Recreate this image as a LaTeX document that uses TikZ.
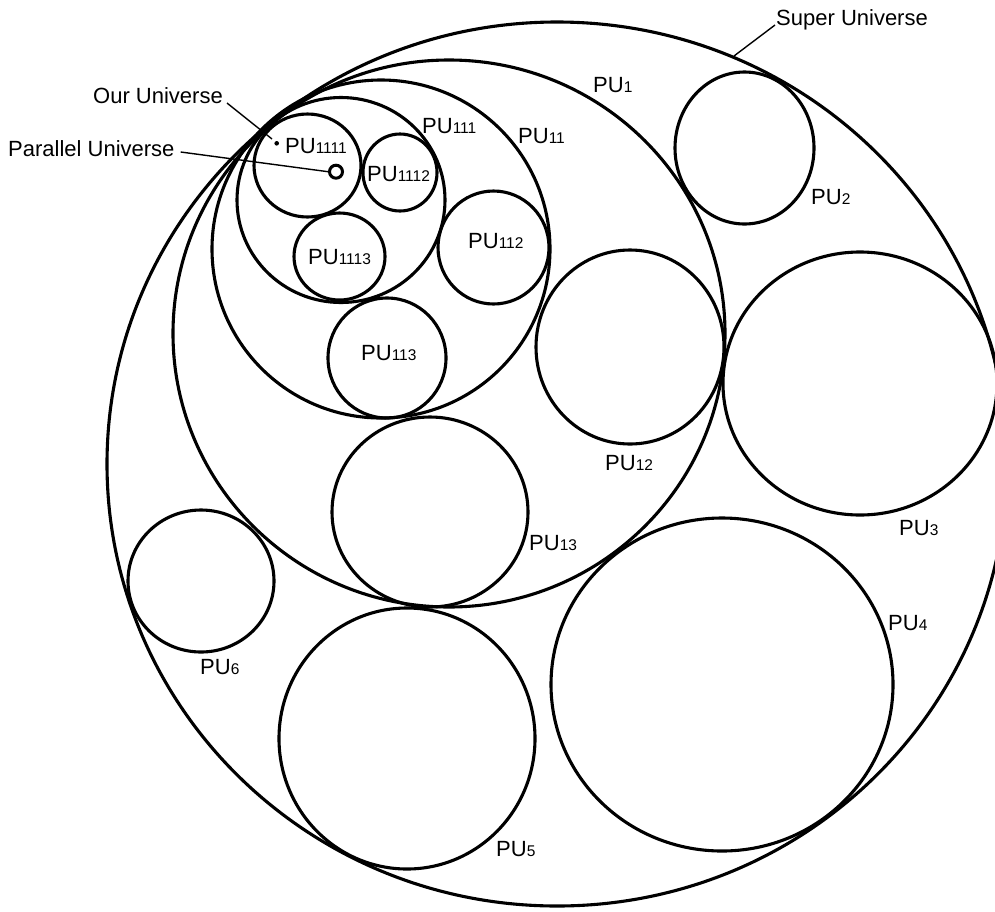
\documentclass[tikz,border=0pt]{standalone}
\usepackage{fontspec}
\setmainfont{Liberation Sans}
\newcommand\pulab[1]{{\fontsize{22}{26}\selectfont PU}{\fontsize{15.5}{18}\selectfont #1}}
\begin{document}
\begin{tikzpicture}[x=1pt,y=-1pt,
  univ/.style={line width=3.1pt},
  lab/.style={anchor=base west, inner sep=0pt, font=\fontsize{22}{26}\selectfont},
  leader/.style={line width=1.4pt}]
\useasboundingbox (0,0) rectangle (995,911);
% universes
\draw[univ] (557,464) ellipse [x radius=450pt, y radius=442pt]; % Super
\draw[univ] (449,333.5) ellipse [x radius=276pt, y radius=273.5pt]; % PU1
\draw[univ] (381,249) ellipse [x radius=169pt, y radius=169pt]; % PU11
\draw[univ] (341,200) ellipse [x radius=104pt, y radius=102.5pt]; % PU111
\draw[univ] (307.5,165.5) ellipse [x radius=53.5pt, y radius=51.5pt]; % PU1111
\draw[univ] (400,172.5) ellipse [x radius=37pt, y radius=38.5pt]; % PU1112
\draw[univ] (339.5,256.5) ellipse [x radius=45.5pt, y radius=43.5pt]; % PU1113
\draw[univ] (493.5,247.5) ellipse [x radius=55.5pt, y radius=56.5pt]; % PU112
\draw[univ] (387,358) ellipse [x radius=59pt, y radius=60pt]; % PU113
\draw[univ] (630,347) ellipse [x radius=94pt, y radius=97pt]; % PU12
\draw[univ] (430,512) ellipse [x radius=98pt, y radius=95pt]; % PU13
\draw[univ] (744.5,148) ellipse [x radius=69.5pt, y radius=76pt]; % PU2
\draw[univ] (860,383.5) ellipse [x radius=137pt, y radius=131.5pt]; % PU3
\draw[univ] (722,684.5) ellipse [x radius=171pt, y radius=166.5pt]; % PU4
\draw[univ] (407,738.5) ellipse [x radius=128pt, y radius=130.5pt]; % PU5
\draw[univ] (201,581) ellipse [x radius=73pt, y radius=71pt]; % PU6
% labels
\node[lab] (l1) at (593,92) {\pulab{1}};
\node[lab] (l11) at (518,143) {\pulab{11}};
\node[lab] (l111) at (422,133) {\pulab{111}};
\node[lab] (l1111) at (285,153) {\pulab{1111}};
\node[lab] (l1112) at (367,181) {\pulab{1112}};
\node[lab] (l1113) at (308,264) {\pulab{1113}};
\node[lab] (l112) at (468,248) {\pulab{112}};
\node[lab] (l113) at (361,360) {\pulab{113}};
\node[lab] (l12) at (605,470) {\pulab{12}};
\node[lab] (l13) at (529,550) {\pulab{13}};
\node[lab] (l2) at (811,204) {\pulab{2}};
\node[lab] (l3) at (899,535) {\pulab{3}};
\node[lab] (l4) at (888,630) {\pulab{4}};
\node[lab] (l5) at (496,856) {\pulab{5}};
\node[lab] (l6) at (200,674) {\pulab{6}};
\node[lab] (ou) at (93,103) {Our Universe};
\node[lab] (pl) at (8,156) {Parallel Universe};
\node[lab] (su) at (776,25) {Super Universe};
% markers and leaders
\coordinate (ourpt) at (276.7,143.3);
\coordinate (ouend) at (272,139);
\coordinate (parpt) at (336,171.7);
\coordinate (suend) at (734,56);
\fill (ourpt) circle [radius=2.3pt];
\draw[line width=3pt] (parpt) circle [radius=6.5pt];
\draw[leader] ([xshift=4pt]ou.base east) -- (ouend);
\draw[leader] ([xshift=6pt,yshift=4pt]pl.base east) -- ([xshift=-8pt]parpt);
\draw[leader] ([xshift=-1pt]su.base west) -- (suend);
\end{tikzpicture}
\end{document}
